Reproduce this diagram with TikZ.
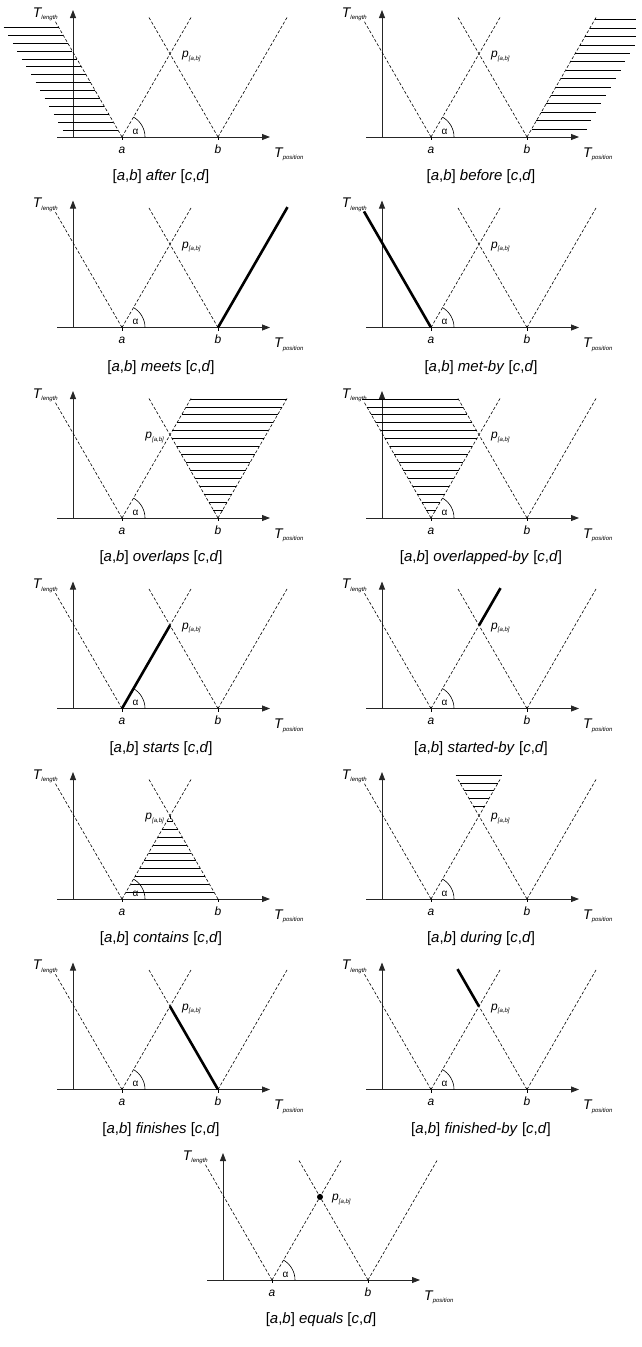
\documentclass[tikz,border=0pt]{standalone}
\usepackage{fontspec}
\setmainfont{Liberation Sans}
\usetikzlibrary{arrows.meta, calc}
\tikzset{
  axis/.style={line width=0.8pt, black!85, -{Triangle[length=8pt,width=6pt]}},
  guide/.style={line width=0.6pt, dash pattern=on 3pt off 2pt},
  bold/.style={line width=2.6pt},
  hatch/.style={line width=0.7pt},
  tick/.style={line width=0.6pt},
  lbl/.style={font=\fontsize{12}{14}\selectfont\itshape, inner sep=0pt},
  tlbl/.style={font=\fontsize{14}{16}\selectfont\itshape, inner sep=0pt},
  greek/.style={font=\fontsize{10}{12}\selectfont, inner sep=0pt},
  pright/.style={lbl, anchor=base west, xshift=12pt, yshift=-4pt},
  pleft/.style={lbl, anchor=base east, xshift=-6pt, yshift=-4pt},
  caption/.style={font=\fontsize{15}{18}\selectfont, inner sep=0pt}
}
\newcommand{\lowtxt}[1]{\raisebox{-2.5pt}{\fontsize{6}{7}\selectfont\itshape #1}}
\newcommand{\relcap}[1]{[\textit{a},\textit{b}] \textit{#1} [\textit{c},\textit{d}]}
\newcommand{\axes}[1]{%
  \coordinate (o) at (0,0);
  \coordinate (a) at (49,0);
  \coordinate (b) at (145,0);
  \coordinate (p) at (97,83.1);
  \draw[axis] (-16,0) -- (197,0);
  \draw[axis] (o) -- (0,127);
  \draw[tick] (a) -- ++(0,-3);
  \draw[tick] (b) -- ++(0,-3);
  \draw[tick] ($(a)+(23,0)$) arc[start angle=0, end angle=60, radius=23];
  \node[greek] (alpha) at ($(a)+(13.5,5.5)$) {α};
  \node[lbl, anchor=base] (alab) at ($(a)+(0,-16)$) {a};
  \node[lbl, anchor=base] (blab) at ($(b)+(0,-16)$) {b};
  \node[tlbl, anchor=base east] (tlen) at (-15,120) {T\lowtxt{length}};
  \node[tlbl, anchor=base west] (tpos) at (201,-20) {T\lowtxt{position}};
  \node[#1] (plab) at (p) {p\lowtxt{[a,b]}};
}
\newcommand{\vees}{%
  \draw[guide] (a) -- ++(120:134);
  \draw[guide] (a) -- ++(60:139);
  \draw[guide] (b) -- ++(120:139);
  \draw[guide] (b) -- ++(60:139);
}

\begin{document}
\begin{tikzpicture}[x=1pt, y=1pt]
  \useasboundingbox (0,0) rectangle (641,-1347);

  \begin{scope}[shift={(73,-137)}]
    \axes{pright}
    \vees
    \foreach \k in {0,...,13}{
      \pgfmathsetmacro\h{7+7.9*\k}
      \draw[hatch] ({49-\h/sqrt(3)-55},\h) -- ({49-\h/sqrt(3)},\h);
    }
  \end{scope}
  \node[caption] (after) at (161,-177) {\relcap{after}};

  \begin{scope}[shift={(382,-137)}]
    \axes{pright}
    \vees
    \foreach \k in {0,...,13}{
      \pgfmathsetmacro\h{8+8.4*\k}
      \draw[hatch] ({145+\h/sqrt(3)},\h) -- ({min(145+\h/sqrt(3)+55,254)},\h);
    }
  \end{scope}
  \node[caption] (before) at (481,-177) {\relcap{before}};

  \begin{scope}[shift={(73,-327.5)}]
    \axes{pright}
    \vees
    \draw[bold] (b) -- ++(60:139);
  \end{scope}
  \node[caption] (meets) at (161,-367.5) {\relcap{meets}};

  \begin{scope}[shift={(382,-327.5)}]
    \axes{pright}
    \vees
    \draw[bold] (a) -- ++(120:134);
  \end{scope}
  \node[caption] (metby) at (481,-367.5) {\relcap{met-by}};

  \begin{scope}[shift={(73,-518)}]
    \axes{pleft}
    \vees
    \foreach \k in {0,...,14}{
      \pgfmathsetmacro\h{8+7.93*\k}
      \draw[hatch] ({max(145-\h/sqrt(3),49+\h/sqrt(3))},\h) -- ({145+\h/sqrt(3)},\h);
    }
  \end{scope}
  \node[caption] (overlaps) at (161,-558) {\relcap{overlaps}};

  \begin{scope}[shift={(382,-518)}]
    \axes{pright}
    \vees
    \foreach \k in {0,...,14}{
      \pgfmathsetmacro\h{8+7.93*\k}
      \draw[hatch] ({49-\h/sqrt(3)},\h) -- ({min(49+\h/sqrt(3),145-\h/sqrt(3))},\h);
    }
  \end{scope}
  \node[caption] (overlappedby) at (481,-558) {\relcap{overlapped-by}};

  \begin{scope}[shift={(73,-708.5)}]
    \axes{pright}
    \vees
    \draw[bold] (a) -- (p);
  \end{scope}
  \node[caption] (starts) at (161,-748.5) {\relcap{starts}};

  \begin{scope}[shift={(382,-708.5)}]
    \axes{pright}
    \vees
    \draw[bold] (p) -- ($(a)+(60:139)$);
  \end{scope}
  \node[caption] (startedby) at (481,-748.5) {\relcap{started-by}};

  \begin{scope}[shift={(73,-899)}]
    \axes{pleft}
    \draw[guide] (a) -- ++(120:134);
    \draw[guide] (a) -- ++(60:139);
    \draw[guide] (b) -- ++(120:139);
    \draw[tick] (p) -- ++(0,-3);
    \foreach \k in {0,...,9}{
      \pgfmathsetmacro\h{7+7.8*\k}
      \draw[hatch] ({49+\h/sqrt(3)},\h) -- ({145-\h/sqrt(3)},\h);
    }
  \end{scope}
  \node[caption] (contains) at (161,-939) {\relcap{contains}};

  \begin{scope}[shift={(382,-899)}]
    \axes{pright}
    \vees
    \foreach \k in {0,...,4}{
      \pgfmathsetmacro\h{93+7.7*\k}
      \draw[hatch] ({145-\h/sqrt(3)},\h) -- ({49+\h/sqrt(3)},\h);
    }
  \end{scope}
  \node[caption] (during) at (481,-939) {\relcap{during}};

  \begin{scope}[shift={(73,-1089.5)}]
    \axes{pright}
    \vees
    \draw[bold] (p) -- (b);
  \end{scope}
  \node[caption] (finishes) at (161,-1129.5) {\relcap{finishes}};

  \begin{scope}[shift={(382,-1089.5)}]
    \axes{pright}
    \vees
    \draw[bold] (p) -- ($(b)+(120:139)$);
  \end{scope}
  \node[caption] (finishedby) at (481,-1129.5) {\relcap{finished-by}};

  \begin{scope}[shift={(223,-1280)}]
    \axes{pright}
    \vees
    \fill (p) circle[radius=3];
  \end{scope}
  \node[caption] (equals) at (321,-1320) {\relcap{equals}};

\end{tikzpicture}
\end{document}
